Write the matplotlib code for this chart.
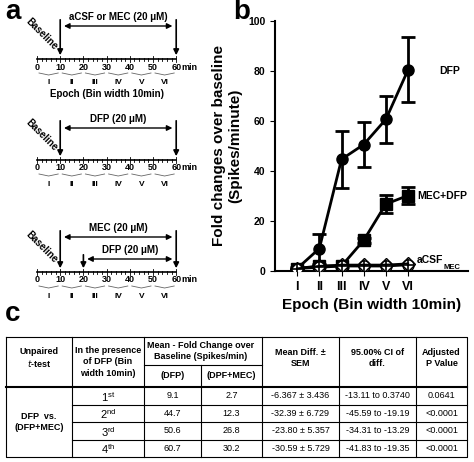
import matplotlib
matplotlib.use('Agg')
import matplotlib.pyplot as plt

plt.rcParams['font.family'] = ['Liberation Sans', 'DejaVu Sans']

epochs = [1, 2, 3, 4, 5, 6]
epoch_labels = ['I', 'II', 'III', 'IV', 'V', 'VI']
dfp = [1, 9, 44.7, 50.6, 60.7, 80.5]
dfp_err = [0.5, 6, 11.5, 9, 9.5, 13]
mec_dfp = [1, 2, 2, 12.3, 26.8, 30.2]
mec_dfp_err = [0.3, 0.5, 0.5, 1, 3.5, 3.5]
acsf = [1, 2, 2.5, 2.5, 2.5, 3]
mec = [1, 1.5, 2, 2, 2, 2.5]

minutes = [0, 10, 20, 30, 40, 50, 60]

col_edges = [6, 72, 144, 201, 262, 339, 416, 467]
bins = ['1', '2', '3', '4']
sups = ['st', 'nd', 'rd', 'th']
mean_dfp = ['9.1', '44.7', '50.6', '60.7']
mean_dfp_mec = ['2.7', '12.3', '26.8', '30.2']
mean_diff = ['-6.367 \u00b1 3.436', '-32.39 \u00b1 6.729', '-23.80 \u00b1 5.357', '-30.59 \u00b1 5.729']
ci = ['-13.11 to 0.3740', '-45.59 to -19.19', '-34.31 to -13.29', '-41.83 to -19.35']
pval = ['0.0641', '<0.0001', '<0.0001', '<0.0001']

W, H = 474, 462
fig = plt.figure(figsize=(W / 100, H / 100), dpi=100)
ov = fig.add_axes([0, 0, 1, 1])
ov.set_xlim(0, W)
ov.set_ylim(H, 0)
ov.axis('off')

# ---- panel b
ax = fig.add_axes([275 / W, 1 - 271 / H, 193 / W, 250 / H])
ax.errorbar(epochs, dfp, yerr=dfp_err, color='k', marker='o', ms=8, lw=2, capsize=5, elinewidth=2, capthick=2, zorder=3)
ax.errorbar(epochs, mec_dfp, yerr=mec_dfp_err, color='k', marker='s', ms=8, lw=2, capsize=5, elinewidth=2, capthick=2, zorder=3)
ax.plot(epochs, mec, color='k', marker='o', ms=8, mfc='white', lw=2, zorder=4)
ax.plot(epochs, mec, color='k', marker='+', ms=8, lw=0, mew=1.2, zorder=5)
ax.plot(epochs, acsf, color='k', marker='D', ms=7, mfc='none', lw=1.5, zorder=5)
ax.set_xlim(0, 8.7)
ax.set_ylim(0, 100)
ax.set_yticks([0, 20, 40, 60, 80, 100])
ax.set_xticks(epochs)
ax.set_xticklabels(epoch_labels, fontweight='bold', fontsize=9)
for t in ax.get_yticklabels():
    t.set_fontweight('bold'); t.set_fontsize(7.5)
ax.spines['top'].set_visible(False)
ax.spines['right'].set_visible(False)
ax.spines['left'].set_linewidth(1.5)
ax.spines['bottom'].set_linewidth(1.5)
ax.set_ylabel('Fold changes over baseline\n(Spikes/minute)', fontsize=11, fontweight='bold')
ax.set_xlabel('Epoch (Bin width 10min)', fontsize=11, fontweight='bold')
ax.text(7.4, 80, 'DFP', fontsize=7.5, fontweight='bold', va='center')
ax.text(6.4, 30, 'MEC+DFP', fontsize=7.5, fontweight='bold', va='center')
ax.text(6.4, 4.5, 'aCSF', fontsize=7.5, fontweight='bold', va='center')
ax.text(7.6, 1.5, 'MEC', fontsize=5.5, fontweight='bold', va='center')

# ---- panel letters
ov.text(5, 12, 'a', fontsize=20, fontweight='bold', va='center')
ov.text(233, 12, 'b', fontsize=20, fontweight='bold', va='center')
ov.text(5, 314, 'c', fontsize=20, fontweight='bold', va='center')

# ---- panel a timelines
x0, px = 37, 23.2
def mx(m):
    return x0 + m * px / 10

def timeline(y, roman=True):
    ov.plot([mx(0), mx(60)], [y, y], color='k', lw=1.2)
    for m in range(0, 61, 2):
        h = 3 if m % 10 == 0 else 1.5
        ov.plot([mx(m), mx(m)], [y - h, y + h], color='k', lw=0.6)
    for m in minutes:
        ov.text(mx(m), y + 8, str(m), fontsize=6.5, fontweight='bold', ha='center', va='center')
    ov.text(mx(60) + 5, y + 8, 'min', fontsize=6.5, fontweight='bold', va='center')
    for i in range(6):
        a, b = mx(i * 10) + 2, mx(i * 10 + 10) - 2
        ov.plot([a, (a + b) / 2, b], [y + 14, y + 16, y + 14], color='0.4', lw=0.6)
        if roman:
            ov.text((a + b) / 2, y + 24, epoch_labels[i], fontsize=6, fontweight='bold', ha='center', va='center')

def vline(m, ytop, y):
    ov.annotate('', xy=(mx(m), y - 1), xytext=(mx(m), ytop),
                arrowprops=dict(arrowstyle='-|>', color='k', lw=1.2, mutation_scale=8))

def harrow(m1, m2, y, label):
    ov.annotate('', xy=(mx(m2) - 1, y), xytext=(mx(m1) + 1, y),
                arrowprops=dict(arrowstyle='<|-|>', color='k', lw=1, mutation_scale=8))
    ov.text((mx(m1) + mx(m2)) / 2, y - 9, label, fontsize=7, fontweight='bold', ha='center', va='center')

tl = [59, 160, 272]
timeline(tl[0]); timeline(tl[1]); timeline(tl[2])
ov.text((mx(0) + mx(60)) / 2, 94, 'Epoch (Bin width 10min)', fontsize=7, fontweight='bold', ha='center', va='center')
vline(10, 17, tl[0]); vline(60, 17, tl[0]); harrow(10, 60, 26, 'aCSF or MEC (20 \u03bcM)')
vline(10, 118, tl[1]); vline(60, 118, tl[1]); harrow(10, 60, 128, 'DFP (20 \u03bcM)')
vline(10, 228, tl[2]); vline(60, 228, tl[2]); harrow(10, 60, 237, 'MEC (20 \u03bcM)')
vline(20, 252, tl[2]); harrow(20, 60, 259, 'DFP (20 \u03bcM)')
for y in [tl[0] - 21, tl[1] - 21, tl[2] - 21]:
    ov.text(42, y - 4, 'Baseline', fontsize=7, fontweight='bold', rotation=-45, ha='center', va='center')

# ---- panel c table
top, hmid, hbot = 337, 365, 387
rows = [387, 404.5, 422, 439.5, 457]
L, R = col_edges[0], col_edges[-1]
ov.plot([L, R, R, L, L], [top, top, rows[-1], rows[-1], top], color='k', lw=0.8)
ov.plot([L, R], [hbot, hbot], color='k', lw=1.5)
ov.plot([col_edges[2], col_edges[4]], [hmid, hmid], color='k', lw=0.8)
for y in rows[1:-1]:
    ov.plot([col_edges[1], R], [y, y], color='k', lw=0.8)
for i, x in enumerate(col_edges[1:-1], start=1):
    if i == 3:
        ov.plot([x, x], [hmid, rows[-1]], color='k', lw=0.8)
    else:
        ov.plot([x, x], [top, rows[-1]], color='k', lw=0.8)

def cc(c):
    return (col_edges[c] + col_edges[c + 1]) / 2

hf = dict(fontsize=6.5, fontweight='bold', ha='center', va='center')
ov.text(cc(0), (top + hbot) / 2 - 4, 'Unpaired\n$\\bf{\\it{t}}$-test', linespacing=1.3, **hf)
ov.text(cc(1), (top + hbot) / 2, 'In the presence\nof DFP (Bin\nwidth 10min)', linespacing=1.3, **hf)
ov.text(col_edges[3], (top + hmid) / 2, 'Mean - Fold Change over\nBaseline (Spikes/min)', linespacing=1.3, **hf)
ov.text(cc(2), (hmid + hbot) / 2, '(DFP)', **hf)
ov.text(cc(3), (hmid + hbot) / 2, '(DPF+MEC)', **hf)
ov.text(cc(4), (top + hbot) / 2 - 4, 'Mean Diff. \u00b1\nSEM', linespacing=1.3, **hf)
ov.text(cc(5), (top + hbot) / 2 - 4, '95.00% CI of\ndiff.', linespacing=1.3, **hf)
ov.text(cc(6), (top + hbot) / 2 - 4, 'Adjusted\nP Value', linespacing=1.3, **hf)
ov.text(cc(0), (rows[0] + rows[-1]) / 2, 'DFP  vs.\n(DFP+MEC)', linespacing=1.4, **hf)
df = dict(fontsize=6.5, ha='center', va='center')
for i in range(4):
    yc = (rows[i] + rows[i + 1]) / 2
    ov.text(cc(1), yc + 1, '$\\mathregular{%s^{%s}}$' % (bins[i], sups[i]), fontsize=8, ha='center', va='center')
    ov.text(cc(2), yc, mean_dfp[i], **df)
    ov.text(cc(3), yc, mean_dfp_mec[i], **df)
    ov.text(cc(4), yc, mean_diff[i], **df)
    ov.text(cc(5), yc, ci[i], **df)
    ov.text(cc(6), yc, pval[i], **df)

fig.savefig('out.png', dpi=100)
